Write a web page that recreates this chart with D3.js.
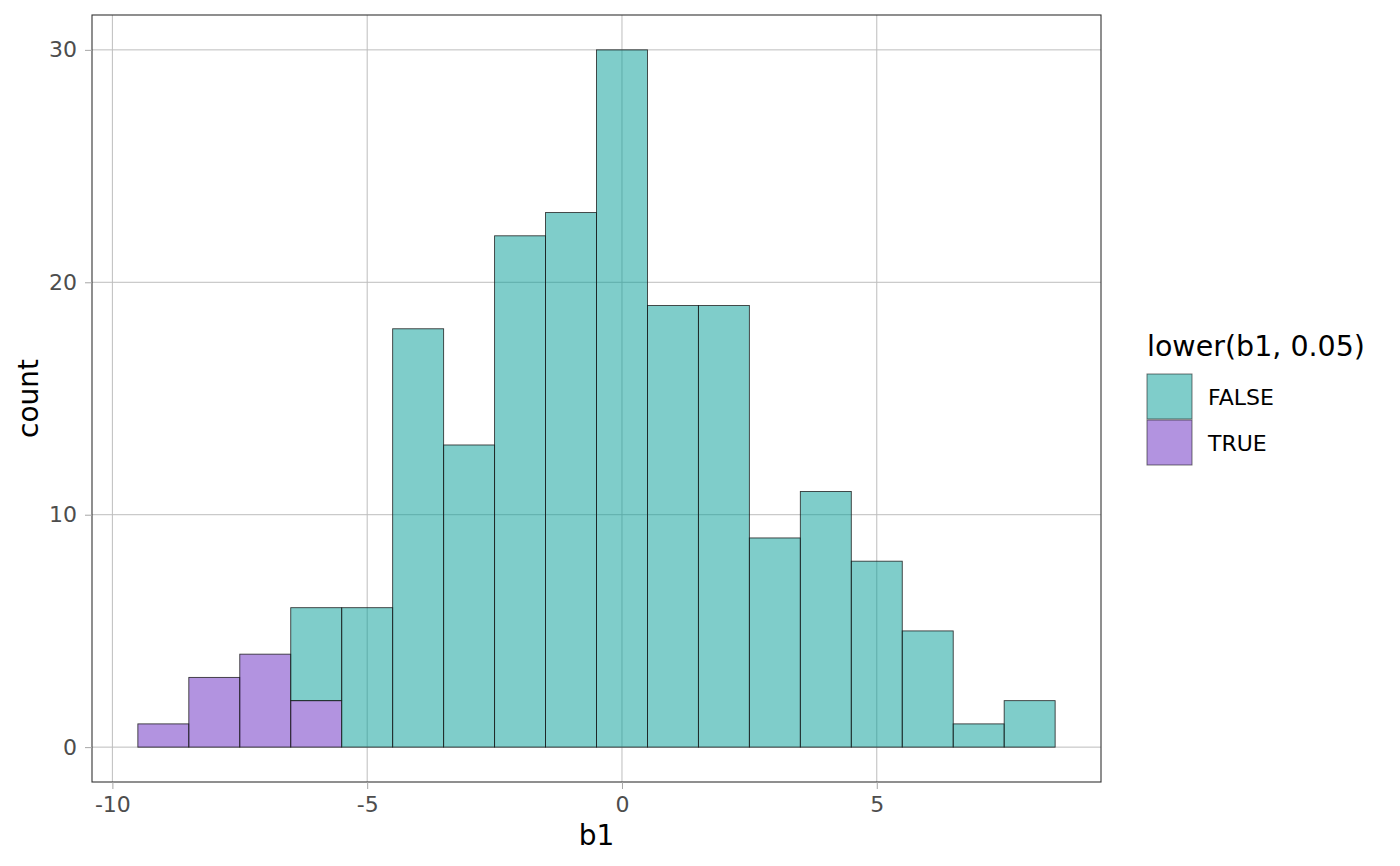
<!DOCTYPE html>
<html>
<head>
<meta charset="utf-8">
<script src="https://cdn.jsdelivr.net/npm/d3@7"></script>
<style>
  body { margin: 0; background: #fff; }
  text { font-family: "DejaVu Sans", sans-serif; }
</style>
</head>
<body>
<script>
// bin centres (binwidth 1) and stacked counts
var bins = [-9, -8, -7, -6, -5, -4, -3, -2, -1, 0, 1, 2, 3, 4, 5, 6, 7, 8];
var countTrue  = [1, 3, 4, 2, 0, 0, 0, 0, 0, 0, 0, 0, 0, 0, 0, 0, 0, 0];
var countFalse = [0, 0, 0, 4, 6, 18, 13, 22, 23, 30, 19, 19, 9, 11, 8, 5, 1, 2];
var xTicks = [-10, -5, 0, 5];
var yTicks = [0, 10, 20, 30];
var groups = ["FALSE", "TRUE"];
var colors = {"FALSE": "#009b95", "TRUE": "#6527c1"};

var W = 1400, H = 866;
var pLeft = 92, pRight = 1101, pTop = 15, pBottom = 782;

var svg = d3.select("body").append("svg")
    .attr("width", W)
    .attr("height", H);

var x = d3.scaleLinear().domain([-10.4, 9.4]).range([pLeft, pRight]);
var y = d3.scaleLinear().domain([-1.5, 31.5]).range([pBottom, pTop]);

// grid
svg.append("g").selectAll("line").data(xTicks).enter().append("line")
    .attr("x1", d => x(d)).attr("x2", d => x(d))
    .attr("y1", pTop).attr("y2", pBottom)
    .attr("stroke", "#bdbdbd").attr("stroke-width", 1);
svg.append("g").selectAll("line").data(yTicks).enter().append("line")
    .attr("x1", pLeft).attr("x2", pRight)
    .attr("y1", d => y(d)).attr("y2", d => y(d))
    .attr("stroke", "#bdbdbd").attr("stroke-width", 1);

// stacked rows: TRUE at bottom, FALSE on top
var rows = bins.map(function(b, i) {
  return {bin: b, TRUE: countTrue[i], FALSE: countFalse[i]};
});
var stack = d3.stack().keys(["TRUE", "FALSE"])(rows);

stack.forEach(function(layer) {
  svg.append("g").selectAll("rect")
    .data(layer.filter(d => d[1] > d[0]))
    .enter().append("rect")
      .attr("x", d => x(d.data.bin - 0.5))
      .attr("width", d => x(d.data.bin + 0.5) - x(d.data.bin - 0.5))
      .attr("y", d => y(d[1]))
      .attr("height", d => y(d[0]) - y(d[1]))
      .attr("fill", colors[layer.key])
      .attr("fill-opacity", 0.5)
      .attr("stroke", "#1a1a1a")
      .attr("stroke-opacity", 0.85)
      .attr("stroke-width", 0.9);
});

// panel border
svg.append("rect")
    .attr("x", pLeft).attr("y", pTop)
    .attr("width", pRight - pLeft).attr("height", pBottom - pTop)
    .attr("fill", "none").attr("stroke", "#333333").attr("stroke-width", 1.1);

// axes
var xAxis = svg.append("g")
    .attr("transform", "translate(0," + pBottom + ")")
    .call(d3.axisBottom(x).tickValues(xTicks).tickSize(7).tickPadding(7)
      .tickFormat(d3.format("d")));
var yAxis = svg.append("g")
    .attr("transform", "translate(" + pLeft + ",0)")
    .call(d3.axisLeft(y).tickValues(yTicks).tickSize(7).tickPadding(8)
      .tickFormat(d3.format("d")));
[xAxis, yAxis].forEach(function(a) {
  a.select(".domain").remove();
  a.selectAll(".tick line").attr("stroke", "#a6a6a6");
  a.selectAll(".tick text")
    .attr("fill", "#4d4d4d")
    .attr("font-family", "DejaVu Sans, sans-serif")
    .attr("font-size", 22);
});
xAxis.selectAll(".tick text").text(d => d < 0 ? "-" + Math.abs(d) : d);

// axis titles
svg.append("text")
    .attr("x", (pLeft + pRight) / 2).attr("y", 845)
    .attr("text-anchor", "middle")
    .attr("font-size", 28)
    .text("b1");
svg.append("text")
    .attr("transform", "translate(38," + ((pTop + pBottom) / 2) + ") rotate(-90)")
    .attr("text-anchor", "middle")
    .attr("font-size", 28)
    .text("count");

// legend
var lg = svg.append("g").attr("transform", "translate(1147,0)");
lg.append("text")
    .attr("x", 0).attr("y", 356)
    .attr("font-size", 28.5)
    .text("lower(b1, 0.05)");
groups.forEach(function(g, i) {
  var ky = 374 + i * 46;
  lg.append("rect")
    .attr("x", 0).attr("y", ky)
    .attr("width", 45).attr("height", 45)
    .attr("fill", colors[g]).attr("fill-opacity", 0.5)
    .attr("stroke", "#1a1a1a").attr("stroke-opacity", 0.6);
  lg.append("text")
    .attr("x", 61).attr("y", ky + 23)
    .attr("dy", "0.35em")
    .attr("font-size", 22)
    .text(g);
});
</script>
</body>
</html>
